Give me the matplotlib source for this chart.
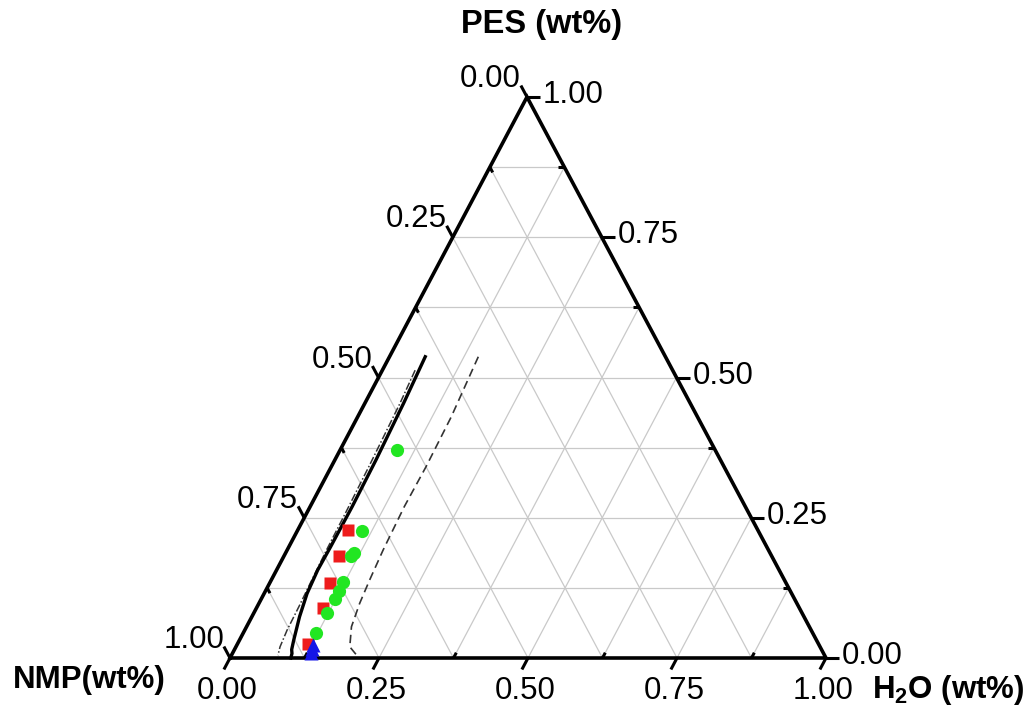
import numpy as np
import matplotlib
matplotlib.use("Agg")
import matplotlib.pyplot as plt

plt.rcParams['font.family'] = ['Liberation Sans', 'DejaVu Sans']
plt.rcParams['mathtext.fontset'] = 'custom'
plt.rcParams['mathtext.rm'] = 'Liberation Sans'
plt.rcParams['mathtext.bf'] = 'Liberation Sans:bold'

# ---- data (fractions: H2O, PES; NMP = 1 - H2O - PES) ----
green_h2o = [0.095, 0.109, 0.115, 0.113, 0.121, 0.123, 0.123, 0.123, 0.122]
green_pes = [0.371, 0.227, 0.188, 0.181, 0.136, 0.120, 0.106, 0.081, 0.044]

red_h2o = [0.085, 0.092, 0.1015, 0.112, 0.119]
red_pes = [0.228, 0.181, 0.133, 0.089, 0.025]

blue_h2o = [0.127, 0.130, 0.132]
blue_pes = [0.024, 0.016, 0.009]

solid_h2o = [0.060, 0.065, 0.069, 0.0705, 0.070, 0.069, 0.072, 0.080, 0.091, 0.096, 0.100, 0.102]
solid_pes = [0.537, 0.454, 0.353, 0.270, 0.198, 0.157, 0.115, 0.0736, 0.032, 0.015, 0.008, 0.0]

dashdot_h2o = [0.055, 0.059, 0.063, 0.065, 0.066, 0.068, 0.070, 0.071, 0.074, 0.078]
dashdot_pes = [0.513, 0.454, 0.341, 0.258, 0.1925, 0.139, 0.0914, 0.050, 0.020, 0.005]

dashed_h2o = [0.149, 0.157, 0.159, 0.158, 0.161, 0.165, 0.169, 0.176, 0.191, 0.21]
dashed_pes = [0.537, 0.430, 0.341, 0.270, 0.1925, 0.139, 0.0975, 0.0558, 0.020, 0.005]

tick_vals = [0.00, 0.25, 0.50, 0.75, 1.00]
tick_labels = ["0.00", "0.25", "0.50", "0.75", "1.00"]

# ---- geometry ----
TX, TY = 297 / 596, 561 / 596   # apex of the (slightly stretched) triangle
PX = 1 / 596                     # one pixel in data units


def tern(h2o, pes):
    h2o = np.asarray(h2o, float)
    pes = np.asarray(pes, float)
    return h2o + pes * TX, pes * TY


fig = plt.figure(figsize=(10.3, 7.17), dpi=100)
ax = fig.add_axes([0, 0, 1, 1])
ax.set_xlim(-230 / 596, 800 / 596)
ax.set_ylim(-59 / 596, 658 / 596)
ax.axis('off')

# grid
grid_kw = dict(color='#c9c9c9', lw=0.9, zorder=1)
for v in np.arange(0.125, 1.0, 0.125):
    x, y = tern([0, 1 - v], [v, v]); ax.plot(x, y, **grid_kw)
    x, y = tern([v, v], [0, 1 - v]); ax.plot(x, y, **grid_kw)
    x, y = tern([1 - v, 0], [0, 1 - v]); ax.plot(x, y, **grid_kw)

# triangle edges
x, y = tern([0, 1, 0, 0], [0, 0, 1, 0])
ax.plot(x, y, color='black', lw=2.6, zorder=5, solid_joinstyle='miter')

# ticks
nb = np.hypot(TX, TY)
d_bot = np.array([-TX, -TY]) / nb
d_right = np.array([1.0, 0.0])
nl = np.hypot(TX - 1, TY)
d_left = np.array([TX - 1, TY]) / nl
maj, mnr = 13 * PX, 6 * PX
tk = dict(color='black', lw=2.2, zorder=5, solid_capstyle='butt')
for v in np.arange(0, 1.0001, 0.125):
    major = abs((v / 0.25) - round(v / 0.25)) < 1e-6
    L = maj if major else -mnr
    x0, y0 = tern(v, 0)
    ax.plot([x0, x0 + L * d_bot[0]], [y0, y0 + L * d_bot[1]], **tk)
    x0, y0 = tern(1 - v, v)
    ax.plot([x0, x0 + L * d_right[0]], [y0, y0 + L * d_right[1]], **tk)
    x0, y0 = tern(0, 1 - v)
    ax.plot([x0, x0 + L * d_left[0]], [y0, y0 + L * d_left[1]], **tk)

# tick labels
fs = 22.5
for v, lab in zip(tick_vals, tick_labels):
    x0, y0 = tern(v, 0)
    ax.text(x0 - 3 * PX, y0 - 33 * PX, lab, ha='center', va='center', fontsize=fs)
    x0, y0 = tern(1 - v, v)
    ax.text(x0 + 16 * PX, y0 + 2 * PX, lab, ha='left', va='center', fontsize=fs)
    x0, y0 = tern(0, 1 - v)
    ax.text(x0 - 6 * PX, y0 + 18 * PX, lab, ha='right', va='center', fontsize=fs)

# axis titles
ax.text(312 * PX, 633 * PX, "PES (wt%)", ha='center', va='center', fontsize=23.5, fontweight='bold')
ax.text(-141 * PX, -22 * PX, "NMP(wt%)", ha='center', va='center', fontsize=22.5, fontweight='bold')
ax.text(718 * PX, -32 * PX, r"H$_\mathbf{2}$O (wt%)", ha='center', va='center', fontsize=22.5, fontweight='bold')

# curves
x, y = tern(dashdot_h2o, dashdot_pes)
ax.plot(x, y, color='#333333', lw=1.1, ls=(0, (5, 1.5, 1, 1.5)), zorder=3)
x, y = tern(solid_h2o, solid_pes)
ax.plot(x, y, color='black', lw=2.4, zorder=3)
x, y = tern(dashed_h2o, dashed_pes)
ax.plot(x, y, color='#333333', lw=1.2, ls=(0, (5, 3)), zorder=3)

# markers
x, y = tern(red_h2o, red_pes)
ax.plot(x, y, 's', color='#ee1c1c', ms=8.5, mec='none', zorder=4)
x, y = tern(green_h2o, green_pes)
ax.plot(x, y, 'o', color='#22e622', ms=9.5, mec='none', zorder=4)
x, y = tern(blue_h2o, blue_pes)
ax.plot(x, y, '^', color='#1515e6', ms=10, mec='none', zorder=6)

fig.savefig("out.png", dpi=100)
